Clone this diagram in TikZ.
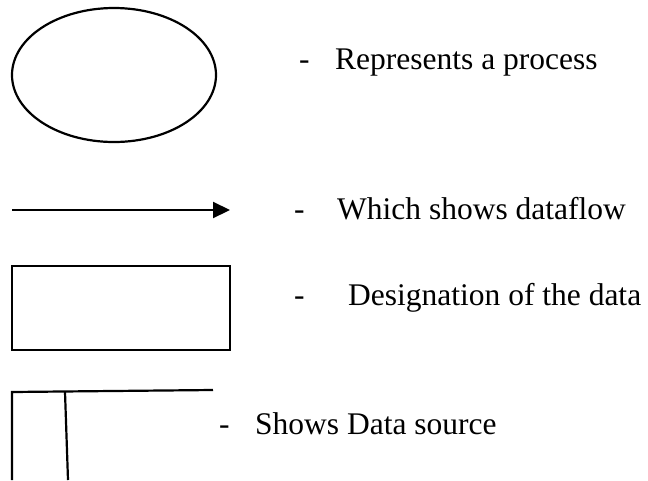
\documentclass[tikz,border=0pt]{standalone}
\usepackage{fontspec}
\setmainfont{Liberation Serif}
\usetikzlibrary{arrows.meta,shapes.geometric,positioning}

\begin{document}
\begin{tikzpicture}[x=1pt, y=-1pt, >={Triangle[length=17pt,width=16pt]},
  every node/.style={font=\fontsize{31.5}{36}\selectfont},
  symbol/.style={draw, line width=2.2pt, inner sep=0pt},
  legendtext/.style={anchor=base west, inner sep=0pt}]
  \useasboundingbox (0,0) rectangle (648,480);

  % Process
  \node[symbol, ellipse, minimum width=204pt, minimum height=134pt] (process) at (114,75) {};
  \node[legendtext] (processtext) at (299,69) {-\hspace{25.5pt}Represents a process};

  % Dataflow
  \coordinate (flowstart) at (12,210);
  \coordinate (flowend) at (230,210);
  \draw[->, line width=2.2pt] (flowstart) -- (flowend);
  \node[legendtext] (flowtext) at (294,219) {-\hspace{32.5pt}Which shows dataflow};

  % Designation
  \node[symbol, rectangle, minimum width=218pt, minimum height=84pt] (store) at (121,308) {};
  \node[legendtext] (storetext) at (294,305) {-\hspace{43.5pt}Designation of the data};

  % Data source
  \draw[line width=2.2pt] (12,480) -- (12,392) -- (213,390);
  \draw[line width=2.2pt] (65,392) -- (68,480);
  \node[legendtext] (sourcetext) at (219,434) {-\hspace{25.5pt}Shows Data source};
\end{tikzpicture}
\end{document}
